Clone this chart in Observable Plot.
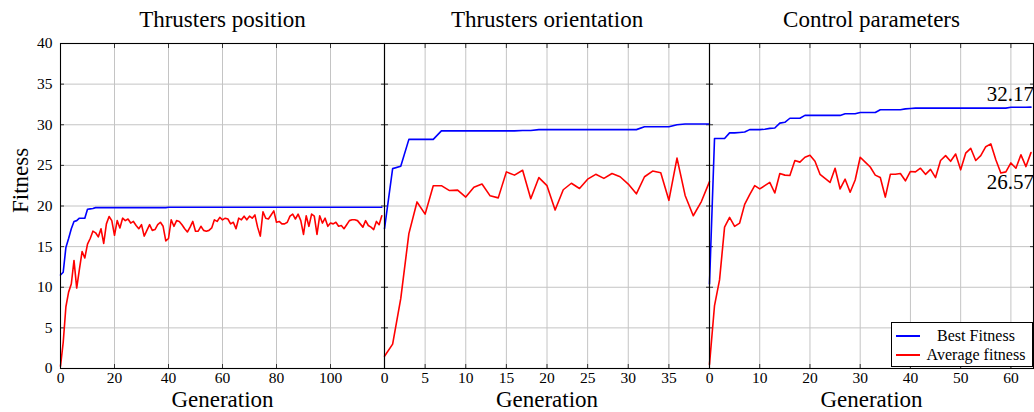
<!DOCTYPE html>
<html>
<head>
<meta charset="utf-8">
<script src="https://cdn.jsdelivr.net/npm/d3@7"></script>
<script src="https://cdn.jsdelivr.net/npm/@observablehq/plot@0.6"></script>
<style>
  html, body { margin: 0; padding: 0; background: #fff; }
  #chart { position: relative; width: 1034px; height: 412px; display: flex; font-family: "Liberation Serif", "DejaVu Serif", serif; }
  #chart svg { flex: none; font-family: "Liberation Serif", "DejaVu Serif", serif !important; }
  #chart svg text { font-family: "Liberation Serif", "DejaVu Serif", serif !important; }
  #legend { position: absolute; left: 891px; top: 322px; width: 142px; height: 45px; box-sizing: border-box;
            border: 1px solid #000; background: #fff; padding-top: 3px; font-size: 16px; }
  .lrow { height: 19.5px; display: flex; align-items: center; }
  .lsample { width: 24px; height: 0; border-top: 2px solid; margin-left: 4px; }
  .ltext { width: 108px; text-align: center; margin-left: 2px; white-space: nowrap; }
</style>
</head>
<body>
<div id="chart"></div>
<script>
// ---- Titles / labels ----
const panelTitles = ["Thrusters position", "Thrusters orientation", "Control parameters"];
const xLabel = "Generation";
const yLabel = "Fitness";
const seriesNames = ["Best Fitness", "Average fitness"];
const seriesColors = ["#0000ff", "#ff0000"];

// ---- Axis ticks ----
const yTicks = [0, 5, 10, 15, 20, 25, 30, 35, 40];
const xTicks1 = [0, 20, 40, 60, 80, 100];
const xTicks2 = [0, 5, 10, 15, 20, 25, 30, 35];
const xTicks3 = [0, 10, 20, 30, 40, 50, 60];

// ---- Panel 1: Thrusters position (generations 0..119) ----
const best1 = [11.5, 11.85, 14.9, 16.0, 17.2, 18.1, 18.2, 18.5, 18.5, 18.5,
  19.6, 19.65, 19.7, 19.8, 19.8, 19.8, 19.8, 19.8, 19.8, 19.8,
  19.8, 19.8, 19.8, 19.8, 19.8, 19.8, 19.8, 19.8, 19.8, 19.8,
  19.8, 19.8, 19.8, 19.8, 19.8, 19.8, 19.8, 19.8, 19.8, 19.8,
  19.85, 19.85, 19.85, 19.85, 19.85, 19.85, 19.85, 19.85, 19.85, 19.85,
  19.85, 19.85, 19.85, 19.85, 19.85, 19.85, 19.85, 19.85, 19.85, 19.85,
  19.85, 19.85, 19.85, 19.85, 19.85, 19.85, 19.85, 19.85, 19.85, 19.85,
  19.85, 19.85, 19.85, 19.85, 19.85, 19.85, 19.85, 19.85, 19.85, 19.85,
  19.85, 19.85, 19.85, 19.85, 19.85, 19.85, 19.85, 19.85, 19.85, 19.85,
  19.85, 19.85, 19.85, 19.85, 19.85, 19.85, 19.85, 19.85, 19.85, 19.85,
  19.85, 19.85, 19.85, 19.85, 19.85, 19.85, 19.85, 19.85, 19.85, 19.85,
  19.85, 19.85, 19.85, 19.85, 19.85, 19.85, 19.85, 19.85, 19.85, 19.85];
const avg1 = [0.3, 3.2, 7.6, 9.4, 10.4, 13.3, 9.9, 12.2, 14.4, 13.6,
  15.3, 16.0, 16.9, 16.7, 16.2, 17.2, 15.4, 17.8, 18.7, 18.2,
  16.4, 18.2, 17.3, 18.5, 18.2, 18.4, 17.9, 18.1, 17.6, 17.2,
  17.7, 16.3, 17.0, 17.7, 17.0, 17.1, 17.7, 18.0, 17.5, 15.7,
  16.0, 18.3, 17.5, 18.2, 18.1, 17.7, 17.2, 16.8, 17.4, 18.1,
  16.9, 16.9, 17.5, 17.0, 16.9, 17.0, 17.3, 18.3, 18.1, 18.6,
  18.3, 18.5, 18.4, 17.8, 18.0, 17.2, 18.5, 18.3, 18.75, 18.3,
  18.75, 18.5, 18.9, 17.4, 16.3, 19.3, 18.5, 18.4, 18.9, 19.4,
  18.0, 18.1, 17.8, 17.8, 18.0, 18.75, 19.0, 18.4, 19.0, 18.2,
  16.5, 18.8, 17.5, 19.0, 18.75, 16.5, 18.8, 17.9, 18.5, 17.5,
  17.9, 17.8, 18.0, 17.5, 17.6, 17.2, 17.7, 18.2, 18.3, 18.3,
  18.2, 17.8, 17.4, 18.2, 17.6, 17.4, 17.1, 18.1, 17.7, 18.8];

// ---- Panel 2: Thrusters orientation (generations 0..40) ----
const best2 = [17.2, 24.6, 24.9, 28.2, 28.2, 28.2, 28.2,
  29.25, 29.25, 29.25, 29.25, 29.25, 29.25, 29.25, 29.25, 29.25, 29.25,
  29.3, 29.3,
  29.4, 29.4, 29.4, 29.4, 29.4, 29.4, 29.4, 29.4, 29.4, 29.4, 29.4, 29.4, 29.4,
  29.75, 29.75, 29.75, 29.75, 30.0, 30.1, 30.1, 30.1, 30.1];
const avg2 = [1.5, 3.0, 8.6, 16.6, 20.5, 19.0, 22.5, 22.5, 21.9, 21.95,
  21.1, 22.3, 22.7, 21.25, 21.0, 24.2, 23.8, 24.4, 20.9, 23.5,
  22.5, 19.5, 22.0, 22.8, 22.15, 23.3, 23.9, 23.4, 24.0, 23.6,
  22.7, 21.5, 23.6, 24.3, 24.1, 20.7, 25.9, 21.3, 18.8, 20.55, 23.0];

// ---- Panel 3: Control parameters (generations 0..64) ----
const best3 = [10.4, 28.3, 28.3, 28.3, 29.0, 29.0, 29.05, 29.1, 29.4, 29.4,
  29.4, 29.45, 29.55, 29.6, 30.2, 30.3, 30.8, 30.8, 30.8, 31.15,
  31.15, 31.15, 31.15, 31.15, 31.15, 31.15, 31.15, 31.35, 31.35, 31.35,
  31.5, 31.5, 31.5, 31.5, 31.85, 31.85, 31.85, 31.85, 31.85, 31.95,
  32.0, 32.05, 32.05, 32.05, 32.05, 32.05, 32.05, 32.05, 32.05, 32.05,
  32.05, 32.05, 32.05, 32.05, 32.05, 32.05, 32.05, 32.05, 32.05, 32.05,
  32.15, 32.15, 32.15, 32.15, 32.17];
const avg3 = [0.5, 7.75, 10.9, 17.4, 18.6, 17.5, 17.9, 20.2, 21.4, 22.5,
  22.1, 22.5, 22.9, 21.6, 24.0, 23.8, 23.75, 25.6, 25.4, 26.0,
  26.25, 25.5, 23.9, 23.4, 22.9, 24.65, 22.1, 23.3, 21.7, 23.2,
  26.0, 25.4, 24.8, 23.8, 23.5, 21.1, 23.9, 23.9, 24.0, 23.1,
  24.25, 24.2, 24.65, 23.9, 24.5, 23.5, 25.6, 26.2, 25.5, 26.4,
  24.45, 26.5, 27.1, 25.6, 26.2, 27.3, 27.65, 25.7, 24.05, 24.2,
  25.3, 24.65, 26.3, 24.85, 26.57];

const FONT = "'Liberation Serif', 'DejaVu Serif', serif";
const gridColor = "#c4c4c4";

function rows(values) { return values.map((v, g) => ({g, v})); }

function panel({best, avg, title, xDomain, xTicks, width, marginLeft, marginRight, showY, annotate}) {
  const b = rows(best), a = rows(avg);
  const noText = () => "";
  const marks = [
    Plot.gridY(yTicks, {stroke: gridColor, strokeOpacity: 1}),
    Plot.gridX(xTicks, {stroke: gridColor, strokeOpacity: 1}),
    Plot.axisX(xTicks, {anchor: "bottom", tickSize: 0, tickPadding: 3, fontSize: 15.5, fontFamily: FONT, label: null, tickFormat: d => String(d)}),
    Plot.axisX(xTicks, {anchor: "bottom", tickSize: 4, dy: -4, tickFormat: noText, label: null, stroke: "#333"}),
    Plot.axisX(xTicks, {anchor: "top", tickSize: 4, dy: 4, tickFormat: noText, label: null, stroke: "#333"}),
    Plot.axisY(yTicks, {anchor: "left", tickSize: 4, dx: 4, tickFormat: noText, label: null, stroke: "#333"}),
    Plot.axisY(yTicks, {anchor: "right", tickSize: 4, dx: -4, tickFormat: noText, label: null, stroke: "#333"}),
    Plot.line(a, {x: "g", y: "v", stroke: seriesColors[1], strokeWidth: 1.6}),
    Plot.line(b, {x: "g", y: "v", stroke: seriesColors[0], strokeWidth: 1.6}),
    Plot.frame({stroke: "#000", strokeWidth: 1.1}),
    Plot.text([title], {frameAnchor: "top", dy: -24, lineAnchor: "middle", fontSize: 23, fontFamily: FONT}),
    Plot.text([xLabel], {frameAnchor: "bottom", dy: 31, lineAnchor: "middle", fontSize: 23, fontFamily: FONT})
  ];
  if (showY) {
    marks.push(Plot.axisY(yTicks, {anchor: "left", tickSize: 0, tickPadding: 8, fontSize: 15.5, fontFamily: FONT, label: null}));
    marks.push(Plot.text([yLabel], {frameAnchor: "left", dx: -40, dy: 7, rotate: -90, fontSize: 23, fontFamily: FONT}));
  } else {
    marks.push(Plot.axisY(yTicks, {anchor: "left", tickSize: 0, tickFormat: noText, label: null}));
  }
  if (annotate) {
    const lb = b[b.length - 1], la = a[a.length - 1];
    marks.push(Plot.text([lb], {x: "g", y: "v", text: d => d.v.toFixed(2), textAnchor: "end", dx: 3, dy: -13, fontSize: 21, fontFamily: FONT}));
    marks.push(Plot.text([la], {x: "g", y: "v", text: d => d.v.toFixed(2), textAnchor: "end", dx: 3, dy: 30, fontSize: 21, fontFamily: FONT}));
  }
  return Plot.plot({
    width, height: 412,
    marginLeft, marginRight, marginTop: 43, marginBottom: 44,
    x: {domain: xDomain},
    y: {domain: [0, 40]},
    style: {fontFamily: FONT, fontSize: "15.5px", background: "transparent", overflow: "visible", maxWidth: "none", color: "#000"},
    marks
  });
}

const chart = document.getElementById("chart");
chart.append(panel({best: best1, avg: avg1, title: panelTitles[0], xDomain: [0, 120], xTicks: xTicks1, width: 384, marginLeft: 60, marginRight: 0, showY: true}));
chart.append(panel({best: best2, avg: avg2, title: panelTitles[1], xDomain: [0, 40], xTicks: xTicks2, width: 325, marginLeft: 0, marginRight: 0}));
chart.append(panel({best: best3, avg: avg3, title: panelTitles[2], xDomain: [0, 64.5], xTicks: xTicks3, width: 325, marginLeft: 0, marginRight: 1, annotate: true}));

// legend
const legend = document.createElement("div");
legend.id = "legend";
seriesNames.forEach((name, i) => {
  const row = document.createElement("div");
  row.className = "lrow";
  const s = document.createElement("span");
  s.className = "lsample";
  s.style.borderTopColor = seriesColors[i];
  const t = document.createElement("span");
  t.className = "ltext";
  t.textContent = name;
  row.append(s, t);
  legend.append(row);
});
chart.append(legend);
</script>
</body>
</html>
